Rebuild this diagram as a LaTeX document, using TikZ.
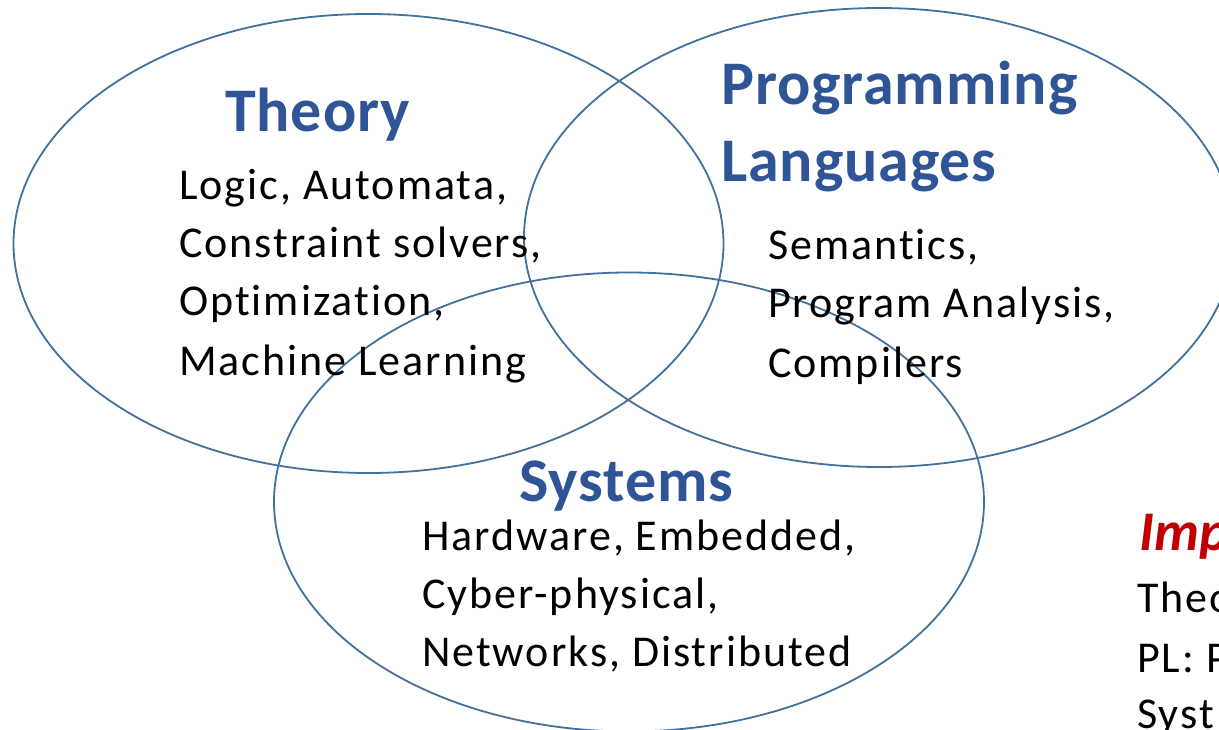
\documentclass[tikz,border=0pt]{standalone}
\usepackage{fontspec}
\setmainfont{Carlito}[Ligatures={CommonOff}]
\usetikzlibrary{shapes.geometric}
\definecolor{ringblue}{RGB}{65,113,156}
\definecolor{titleblue}{RGB}{47,85,151}
\definecolor{impred}{RGB}{192,0,0}
\tikzset{
  ring/.style={ellipse, draw=ringblue, line width=1.8pt, inner sep=0pt, minimum width=710pt, minimum height=459pt},
  ttl/.style={anchor=base west, inner sep=0pt, text=titleblue, font=\fontsize{62}{74}\selectfont\bfseries\addfontfeatures{LetterSpace=1.5}},
  body/.style={anchor=base west, inner sep=0pt, text=black, font=\fontsize{44}{58}\selectfont\addfontfeatures{LetterSpace=4.5}},
  imp/.style={anchor=base west, inner sep=0pt, text=impred, font=\fontsize{56}{66}\selectfont\bfseries\itshape}
}
\begin{document}
\begin{tikzpicture}[x=1pt,y=-1pt]
\useasboundingbox (0,0) rectangle (1219,730);
\clip (0,0) rectangle (1219,730);
\fill[white] (0,0) rectangle (1219,730);
\node[ring] (theoryring) at (368.5,243.5) {};
\node[ring] (plring) at (879,237.5) {};
\node[ring] (sysring) at (629,502) {};
% Theory
\node[ttl] (theory) at (225,132) {Theory};
\node[body] (t1) at (179,200) {Logic, Automata,};
\node[body] (t2) at (179,258) {Constraint solvers,};
\node[body] (t3) at (179,316) {Optimization,};
\node[body] (t4) at (179,375) {Machine Learning};
% PL
\node[ttl] (pl1) at (721,105) {Programming};
\node[ttl] (pl2) at (721,182) {Languages};
\node[body] (p1) at (768,260) {Semantics,};
\node[body] (p2) at (768,318) {Program Analysis,};
\node[body] (p3) at (768,377) {Compilers};
% Systems
\node[ttl] (sys) at (519,501) {Systems};
\node[body] (s1) at (422,550) {Hardware, Embedded,};
\node[body] (s2) at (422,608) {Cyber-physical,};
\node[body] (s3) at (422,666) {Networks, Distributed};
% right side (cut off by the picture's edge, as in the reference)
\node[imp] (impt) at (1139,550) {Imp};
\node[body] (r1) at (1137,612) {Theo};
\node[body] (r2) at (1137,672) {PL: P};
\node[body] (r3) at (1137,728) {Syst};
\end{tikzpicture}
\end{document}
